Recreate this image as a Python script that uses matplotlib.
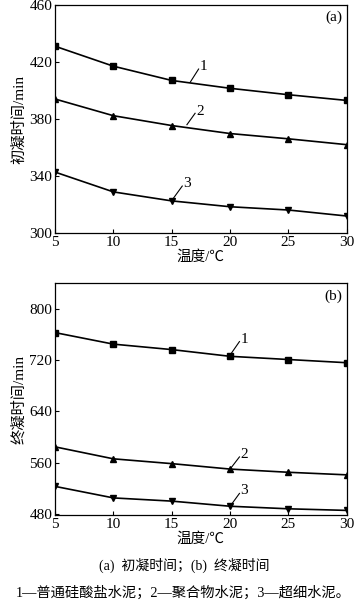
import numpy as np
import matplotlib.pyplot as plt

plt.rcParams['font.family'] = ['Liberation Serif', 'Noto Sans CJK SC']
plt.rcParams['axes.unicode_minus'] = False

temp = [5, 10, 15, 20, 25, 30]

# (a) initial setting time, min
init_1 = [431, 417, 407, 401.5, 397, 393]
init_2 = [394, 382.3, 375.4, 369.8, 366.1, 362]
init_3 = [342.8, 328.9, 322.6, 318.5, 316.2, 312]

# (b) final setting time, min
final_1 = [763, 745, 736.5, 726, 721, 716]
final_2 = [584.7, 566, 558.5, 550, 545, 541]
final_3 = [523, 505, 500, 492, 488, 485.5]

markers = ['s', '^', 'v']

fig = plt.figure(figsize=(3.55, 6.04), dpi=100)
ax1 = fig.add_axes([0.155, 0.614, 0.822, 0.378])
ax2 = fig.add_axes([0.155, 0.147, 0.822, 0.384])


def style(ax, ylim, yticks, ylabel, tag):
    ax.set_xlim(5, 30)
    ax.set_ylim(*ylim)
    ax.set_xticks(temp)
    ax.set_yticks(yticks)
    ax.tick_params(direction='in', length=3, labelsize=11, width=0.8, pad=2)
    for s in ax.spines.values():
        s.set_linewidth(0.9)
    ax.set_xlabel('温度/℃', fontsize=10.5, labelpad=1)
    ax.set_ylabel(ylabel, fontsize=11, labelpad=2)
    ax.text(0.985, 0.975, tag, transform=ax.transAxes, ha='right', va='top', fontsize=11)


for ys, m in zip([init_1, init_2, init_3], markers):
    ax1.plot(temp, ys, color='black', lw=1.2, marker=m, ms=4)
for ys, m in zip([final_1, final_2, final_3], markers):
    ax2.plot(temp, ys, color='black', lw=1.2, marker=m, ms=4)

style(ax1, (300, 460), [300, 340, 380, 420, 460], '初凝时间/min', '(a)')
style(ax2, (478, 840), [480, 560, 640, 720, 800], '终凝时间/min', '(b)')

# curve number callouts
lab_a = [('1', 16.6, 406, 17.3, 415), ('2', 16.3, 376, 17.0, 384), ('3', 15.1, 324, 15.9, 333)]
for t, x0, y0, x1, y1 in lab_a:
    ax1.plot([x0, x1], [y0, y1], color='black', lw=0.8)
    ax1.text(x1 + 0.1, y1 + 1.5, t, fontsize=11, ha='left', va='center')

lab_b = [('1', 20.0, 728, 20.8, 749), ('2', 20.0, 550, 20.8, 569), ('3', 20.0, 492, 20.8, 512)]
for t, x0, y0, x1, y1 in lab_b:
    ax2.plot([x0, x1], [y0, y1], color='black', lw=0.8)
    ax2.text(x1 + 0.1, y1 + 4, t, fontsize=11, ha='left', va='center')

fig.text(0.52, 0.064, '(a)  初凝时间；(b)  终凝时间', ha='center', va='center', fontsize=10)
fig.text(0.515, 0.018, '1—普通硅酸盐水泥；2—聚合物水泥；3—超细水泥。', ha='center', va='center', fontsize=10.3)

fig.savefig('out.png', dpi=100)
